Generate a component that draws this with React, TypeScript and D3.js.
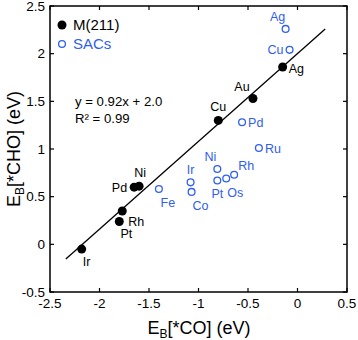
import React from "react";
import * as d3 from "d3";

// M(211) surfaces: E_B[*CO], E_B[*CHO]
const metalNames = ["Ir", "Pt", "Rh", "Pd", "Ni", "Cu", "Au", "Ag"];
const metalCO = [-2.18, -1.8, -1.77, -1.65, -1.6, -0.8, -0.45, -0.15];
const metalCHO = [-0.05, 0.24, 0.35, 0.6, 0.61, 1.3, 1.53, 1.86];

// single-atom catalysts
const sacNames = ["Ag", "Cu", "Pd", "Ru", "Fe", "Ir", "Co", "Ni", "Pt", "Os", "Rh"];
const sacCO = [-0.12, -0.08, -0.56, -0.39, -1.4, -1.08, -1.07, -0.81, -0.81, -0.72, -0.64];
const sacCHO = [2.26, 2.04, 1.28, 1.01, 0.58, 0.65, 0.55, 0.79, 0.67, 0.69, 0.73];

const xTicks = [-2.5, -2, -1.5, -1, -0.5, 0, 0.5];
const yTicks = [-0.5, 0, 0.5, 1, 1.5, 2, 2.5];
const fitSlope = 0.92;
const fitIntercept = 2.0;
const fitRange = [-2.34, 0.28];

// label placement: [dx, dy, anchor]
const metalLabelPos: [number, number, string][] = [
  [5, 17, "middle"],
  [7, 17, "middle"],
  [6, 15, "start"],
  [-7, 5, "end"],
  [1, -9, "middle"],
  [0, -9, "middle"],
  [-11, -7, "middle"],
  [6, 6, "start"],
];
const sacLabelPos: [number, number, string][] = [
  [-8, -8, "middle"],
  [-6, 4, "end"],
  [6, 5, "start"],
  [6, 5, "start"],
  [9, 18, "middle"],
  [0, -8, "middle"],
  [9, 18, "middle"],
  [-7, -8, "middle"],
  [0, 18, "middle"],
  [9, 18, "middle"],
  [12, -5, "middle"],
];

const BLUE = "#3060ee";
const FONT = "'Liberation Sans', Arial, Helvetica, sans-serif";

export default function App() {
  const width = 358;
  const height = 340;
  const x = d3.scaleLinear().domain([-2.5, 0.5]).range([50, 347]);
  const y = d3.scaleLinear().domain([-0.5, 2.5]).range([292, 6]);
  const tick = 4;

  return (
    <svg
      width={width}
      height={height}
      style={{ position: "absolute", left: 0, top: 0, fontFamily: FONT }}
    >
      <rect x={0} y={0} width={width} height={height} fill="white" />

      {/* frame */}
      <rect
        x={x(-2.5)}
        y={y(2.5)}
        width={x(0.5) - x(-2.5)}
        height={y(-0.5) - y(2.5)}
        fill="none"
        stroke="black"
        strokeWidth={1.5}
      />

      {/* x ticks */}
      {xTicks.map((t) => (
        <g key={"x" + t}>
          <line x1={x(t)} x2={x(t)} y1={y(-0.5)} y2={y(-0.5) - tick} stroke="black" strokeWidth={1.2} />
          <line x1={x(t)} x2={x(t)} y1={y(2.5)} y2={y(2.5) + tick} stroke="black" strokeWidth={1.2} />
          <text x={x(t)} y={y(-0.5) + 16} textAnchor="middle" fontSize={13.5}>
            {String(t)}
          </text>
        </g>
      ))}

      {/* y ticks */}
      {yTicks.map((t) => (
        <g key={"y" + t}>
          <line x1={x(-2.5)} x2={x(-2.5) + tick} y1={y(t)} y2={y(t)} stroke="black" strokeWidth={1.2} />
          <line x1={x(0.5)} x2={x(0.5) - tick} y1={y(t)} y2={y(t)} stroke="black" strokeWidth={1.2} />
          <text x={x(-2.5) - 5} y={y(t)} dy="0.35em" textAnchor="end" fontSize={13.5}>
            {String(t)}
          </text>
        </g>
      ))}

      {/* axis titles */}
      <text x={199} y={334} textAnchor="middle" fontSize={18}>
        E<tspan fontSize={12} dy={4}>B</tspan>
        <tspan dy={-4}>[*CO] (eV)</tspan>
      </text>
      <text
        transform={`translate(20, ${y(1)}) rotate(-90)`}
        textAnchor="middle"
        fontSize={18}
      >
        E<tspan fontSize={12} dy={4}>B</tspan>
        <tspan dy={-4}>[*CHO] (eV)</tspan>
      </text>

      {/* fit line */}
      <line
        x1={x(fitRange[0])}
        y1={y(fitSlope * fitRange[0] + fitIntercept)}
        x2={x(fitRange[1])}
        y2={y(fitSlope * fitRange[1] + fitIntercept)}
        stroke="black"
        strokeWidth={1.3}
      />

      {/* equation */}
      <text x={75} y={106} fontSize={13.2}>y = 0.92x + 2.0</text>
      <text x={75} y={123} fontSize={13.2}>R² = 0.99</text>

      {/* legend */}
      <circle cx={62} cy={25} r={4.5} fill="black" />
      <text x={73} y={25} dy="0.35em" fontSize={15}>M(211)</text>
      <circle cx={62} cy={44} r={3.4} fill="none" stroke={BLUE} strokeWidth={1.3} />
      <text x={73} y={44} dy="0.35em" fontSize={15} fill={BLUE}>SACs</text>

      {/* M(211) points */}
      {metalNames.map((n, i) => (
        <g key={"m" + i}>
          <circle cx={x(metalCO[i])} cy={y(metalCHO[i])} r={4.5} fill="black" />
          <text
            x={x(metalCO[i]) + metalLabelPos[i][0]}
            y={y(metalCHO[i]) + metalLabelPos[i][1]}
            textAnchor={metalLabelPos[i][2]}
            fontSize={12.5}
          >
            {n}
          </text>
        </g>
      ))}

      {/* SAC points */}
      {sacNames.map((n, i) => (
        <g key={"s" + i}>
          <circle
            cx={x(sacCO[i])}
            cy={y(sacCHO[i])}
            r={3.4}
            fill="none"
            stroke={BLUE}
            strokeWidth={1.3}
          />
          <text
            x={x(sacCO[i]) + sacLabelPos[i][0]}
            y={y(sacCHO[i]) + sacLabelPos[i][1]}
            textAnchor={sacLabelPos[i][2]}
            fontSize={12.5}
            fill={BLUE}
          >
            {n}
          </text>
        </g>
      ))}
    </svg>
  );
}
